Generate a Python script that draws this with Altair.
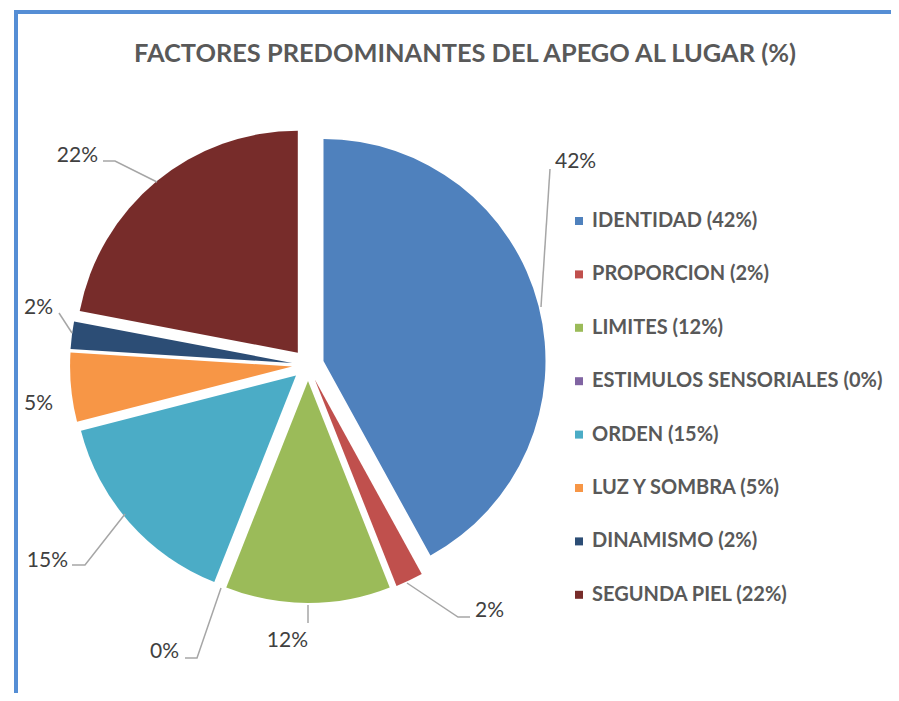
import math
import altair as alt
import pandas as pd

# ---------------- data ----------------
categories = ["IDENTIDAD", "PROPORCION", "LIMITES", "ESTIMULOS SENSORIALES",
              "ORDEN", "LUZ Y SOMBRA", "DINAMISMO", "SEGUNDA PIEL"]
values = [42, 2, 12, 0, 15, 5, 2, 22]
colors = ["#4F81BD", "#C0504D", "#9BBB59", "#8064A2",
          "#4BACC6", "#F79646", "#2C4D75", "#772C2A"]
title_text = "FACTORES PREDOMINANTES DEL APEGO AL LUGAR (%)"

# ---------------- layout ----------------
W, H = 883, 685
CX, CY = 300, 357
R = 222
EXPLODE = 16

# data-label placement (chart pixels): anchor x, baseline y, alignment
label_x = [547, 467, 300, 171, 60, 45, 45, 90]
label_y = [160, 609, 639, 650, 559, 402, 306, 154]
label_align = ["left", "left", "right", "right", "right", "right", "right", "right"]
# leader line polylines (chart pixels)
leaders = [
    [(533, 299), (542, 161)],
    [(399, 575), (450, 609), (462, 609)],
    [(300, 597), (300, 615)],
    [(213, 580), (189, 650), (177, 650)],
    [(117, 506), (77, 557), (64, 557)],
    [],
    [(51, 305), (64, 325)],
    [(95, 153), (107, 153), (149, 174)],
]

# ---------------- tables ----------------
legend_labels = [f"{c} ({v}%)" for c, v in zip(categories, values)]
starts, acc = [], 0
for v in values:
    starts.append(acc)
    acc += v
df = pd.DataFrame({
    "cat": categories,
    "value": values,
    "legend": legend_labels,
    "start": starts,
    "end": [s + v for s, v in zip(starts, values)],
    "lx": label_x,
    "ly": label_y,
    "align": label_align,
})

lead_rows = []
for c, pts in zip(categories, leaders):
    for i, (px, py) in enumerate(pts):
        lead_rows.append({"cat": c, "i": i, "px": px, "py": py})
lead_df = pd.DataFrame(lead_rows)

base = alt.Chart(df)

mid_expr = "(datum.start + datum.end) / 200 * 2 * PI"
arcs = base.mark_arc(radius=R, stroke=None).transform_calculate(
    ex=f"{CX} + {EXPLODE} * sin({mid_expr})",
    ey=f"{CY} - {EXPLODE} * cos({mid_expr})",
).encode(
    theta=alt.Theta("start:Q", scale=alt.Scale(domain=[0, 100], range=[0, 2 * math.pi])),
    theta2=alt.Theta2("end:Q"),
    x=alt.X("ex:Q", scale=None),
    y=alt.Y("ey:Q", scale=None),
    color=alt.Color(
        "legend:N",
        scale=alt.Scale(domain=legend_labels, range=colors),
        legend=alt.Legend(
            orient="none", legendX=561, legendY=203, direction="vertical",
            title=None, symbolType="square", symbolSize=64, symbolStrokeWidth=0,
            labelFont="Lato", labelFontSize=20, labelFontWeight="bold",
            labelColor="#595959", labelOffset=3, rowPadding=33.4,
            labelLimit=500, padding=0,
        ),
    ),
)

leader_lines = alt.Chart(lead_df).mark_line(color="#A6A6A6", strokeWidth=1.5).encode(
    x=alt.X("px:Q", scale=None),
    y=alt.Y("py:Q", scale=None),
    detail="cat:N",
    order="i:O",
)

def label_layer(al):
    return base.transform_filter(f"datum.align == '{al}'").transform_calculate(
        txt="datum.value + '%'"
    ).mark_text(
        align=al, baseline="alphabetic", font="Lato", fontSize=21, color="#404040"
    ).encode(
        x=alt.X("lx:Q", scale=None),
        y=alt.Y("ly:Q", scale=None),
        text="txt:N",
    )

title = alt.Chart(pd.DataFrame({"t": [title_text]})).mark_text(
    font="Lato", fontSize=25.4, fontWeight="bold", color="#595959",
    align="center", baseline="alphabetic",
).encode(text="t:N", x=alt.value(457), y=alt.value(54))

one = pd.DataFrame({"a": [0]})
frame_left = alt.Chart(one).mark_rule(color="#558ED5", strokeWidth=4).encode(
    x=alt.value(8), y=alt.value(2), y2=alt.value(H))
frame_top = alt.Chart(one).mark_rule(color="#558ED5", strokeWidth=4).encode(
    x=alt.value(6), x2=alt.value(W), y=alt.value(4))

chart = alt.layer(
    arcs, leader_lines, label_layer("left"), label_layer("right"),
    title, frame_left, frame_top,
).properties(
    width=W, height=H, autosize="none", padding=0, background="white"
).configure_view(stroke=None)

chart.save("out.html", embed_options={"renderer": "svg", "actions": False})
